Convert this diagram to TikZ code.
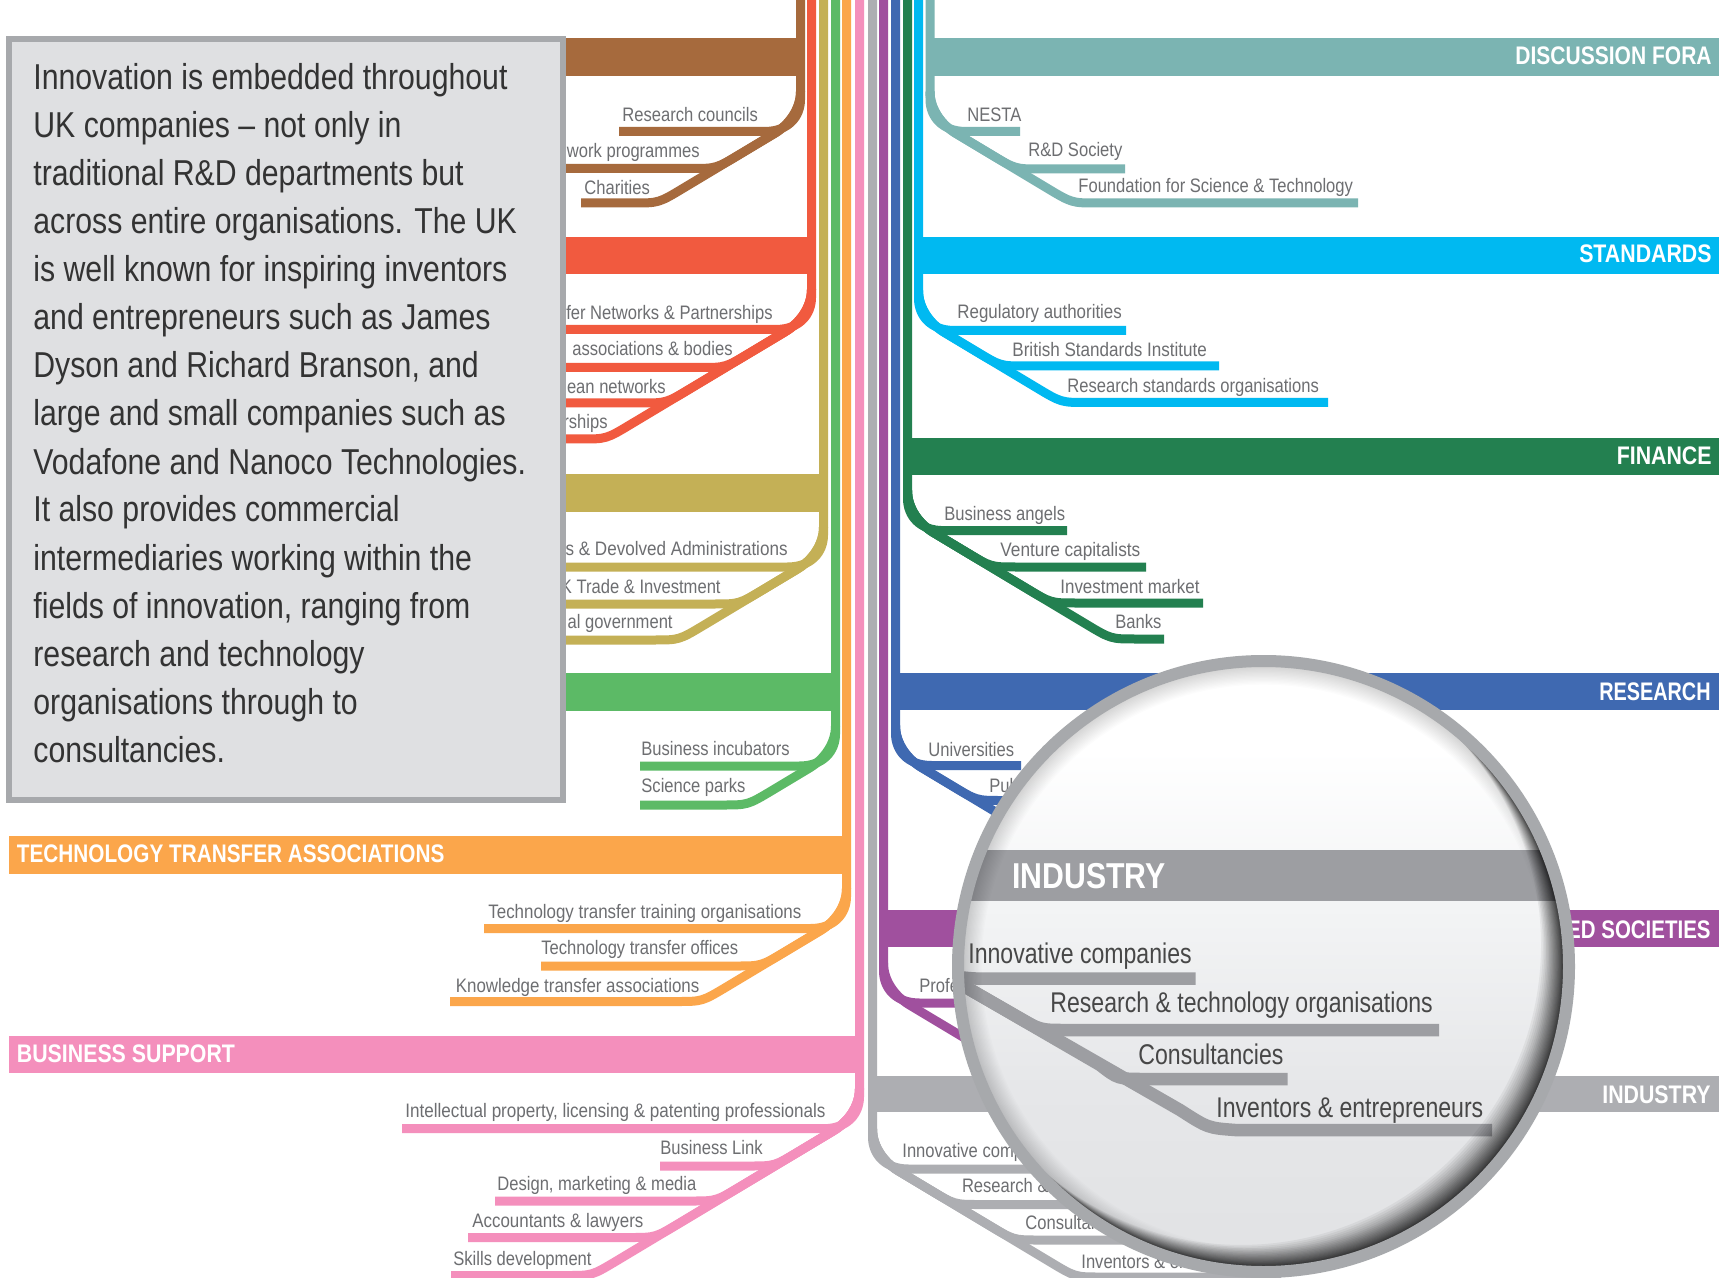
\documentclass[tikz,border=0pt]{standalone}
\usepackage{fontspec}
\setmainfont{Liberation Sans}
\newfontfamily\cnd[FakeStretch=0.85]{Liberation Sans}
\newfontfamily\cndp[FakeStretch=0.84]{Liberation Sans}
\newfontfamily\cndl[FakeStretch=0.81]{Liberation Sans}
\newfontfamily\cndb[FakeStretch=0.84]{Liberation Sans}
\definecolor{cbrown}{HTML}{A66A3D}
\definecolor{cred}{HTML}{F15A3F}
\definecolor{colive}{HTML}{C4B056}
\definecolor{cgreen}{HTML}{5CBA66}
\definecolor{corange}{HTML}{FBA64B}
\definecolor{cpink}{HTML}{F48FBC}
\definecolor{cgrey}{HTML}{ADAEB2}
\definecolor{cpurple}{HTML}{A0509E}
\definecolor{cblue}{HTML}{3F69B1}
\definecolor{cdkgreen}{HTML}{238050}
\definecolor{ccyan}{HTML}{00B9F1}
\definecolor{cteal}{HTML}{7BB4B2}
\definecolor{ctext}{HTML}{6D6E71}
\definecolor{clens}{HTML}{9D9EA2}
\definecolor{cring}{HTML}{A7A9AC}
\definecolor{cpanel}{HTML}{DFE0E2}
\definecolor{lensg}{HTML}{E1E2E4}
\definecolor{lensm}{HTML}{E6E7E9}
\definecolor{lensl}{HTML}{F3F4F5}
\pgfdeclareverticalshading{lensv}{100bp}{color(0bp)=(lensg); color(25bp)=(lensg); color(40bp)=(lensm); color(55bp)=(lensl); color(68bp)=(white); color(100bp)=(white)}
\tikzset{
  stem/.style={line width=4.5pt},
  lbl/.style={inner sep=0pt,text=ctext,font=\cnd\fontsize{9.75}{10}\selectfont},
  barlbl/.style={inner sep=0pt,text=white,font=\cndb\bfseries\fontsize{12.7}{13}\selectfont},
  paneltxt/.style={inner sep=0pt,anchor=base west,text=black!80,font=\cndp\fontsize{18}{18}\selectfont},
  lenslbl/.style={inner sep=0pt,anchor=base west,text=black!72,font=\cndl\fontsize{14.25}{15}\selectfont},
  lensline/.style={line width=6.25pt,clens},
  wide/.style={xscale=#1,transform shape},
}
% colour, x0, direction, first y, first end, list of y/end
\newcommand\subtree[6]{%
  \draw[stem,#1] (#2,0) -- (#2,#4-32) .. controls (#2,#4-15) and ({#2+#3*12},#4) .. ({#2+#3*36},#4) -- (#5,#4);
  \foreach \yy/\xe in {#6} {
    \pgfmathsetmacro\xm{#2+#3*(16+(\yy-#4+4)/0.6)}
    \draw[stem,#1] (#2,#4-40) .. controls (#2,#4-22) and ({#2+#3*12},#4-6.4) .. ({#2+#3*26},#4+2) -- ({\xm-#3*25},\yy-15) .. controls (\xm,\yy) .. ({\xm+#3*25},\yy) -- (\xe,\yy);
  }
}
\newcommand\labW[5][wide=1]{\node[lbl,anchor=base west,#1] (#2) at (#3,#4) {#5};}
\newcommand\labE[5][wide=1]{\node[lbl,anchor=base east,#1] (#2) at (#3,#4) {#5};}
\begin{document}
\begin{tikzpicture}[x=0.5pt,y=-0.5pt]
\useasboundingbox (0,0) rectangle (1719,1278);
\fill[white] (0,0) rectangle (1719,1278);

% trees
\subtree{cbrown}{800.5}{-1}{131.5}{619}{168.5/400,203/581}
\subtree{cred}{811.5}{-1}{329.5}{400}{367.5/400,403/400,439/400}
\subtree{colive}{823.5}{-1}{567}{400}{604/400,640/400}
\subtree{cgreen}{835.5}{-1}{766}{640}{805/640}
\subtree{corange}{846.5}{-1}{928.5}{484}{966/541,1001.5/450}
\subtree{cpink}{859.5}{-1}{1128.7}{402}{1166/660,1201/495,1237.5/468,1275.5/451}
\subtree{cgrey}{872.5}{1}{1169}{1069}{1204.5/1246,1240/1130,1277/1281}
\subtree{cpurple}{883.5}{1}{1003}{1100}{1047/1200}
\subtree{cblue}{895.5}{1}{765.5}{1021}{800.5/1200,840/1200}
\subtree{cdkgreen}{907.5}{1}{530.6}{1067}{567/1146,603/1203,639/1164}
\subtree{ccyan}{918.5}{1}{330.5}{1126}{366/1219,402.5/1328}
\subtree{cteal}{930}{1}{131.5}{1020}{169/1125,203/1358}

% bars
\fill[cbrown] (9,38) rectangle (805,76);
\fill[cred] (9,237) rectangle (816,274);
\fill[colive] (9,474) rectangle (828,512);
\fill[cgreen] (9,673) rectangle (840,711);
\fill[corange] (9,836) rectangle (851,874);
\fill[cpink] (9,1036) rectangle (864,1073);
\fill[cgrey] (868,1075.5) rectangle (1719,1112);
\fill[cpurple] (879,910) rectangle (1719,947);
\fill[cblue] (891,672.5) rectangle (1719,710);
\fill[cdkgreen] (903,438) rectangle (1719,475);
\fill[ccyan] (914,237) rectangle (1719,274);
\fill[cteal] (926,38) rectangle (1719,76);

% bar labels
\node[barlbl,anchor=base west,wide=0.973] (bTTA) at (16.5,862) {TECHNOLOGY TRANSFER ASSOCIATIONS};
\node[barlbl,anchor=base west] (bBS) at (16.5,1062) {BUSINESS SUPPORT};
\node[barlbl,anchor=base east,wide=0.985] (bDF) at (1712,65) {DISCUSSION FORA};
\node[barlbl,anchor=base east] (bST) at (1712,263) {STANDARDS};
\node[barlbl,anchor=base east] (bFI) at (1712,465) {FINANCE};
\node[barlbl,anchor=base east,wide=0.93] (bRE) at (1711,700) {RESEARCH};
\node[barlbl,anchor=base east,wide=0.96] (bLS) at (1711,938) {ED SOCIETIES};
\node[barlbl,anchor=base east] (bIN) at (1711,1103) {INDUSTRY};

% labels, left side
\labW{a1}{622}{122}{Research councils}
\labE{a2}{700}{158}{work programmes}
\labW{a3}{584}{195}{Charities}
\labE{r1}{773}{319.5}{fer Networks \& Partnerships}
\labE{r2}{733}{356}{associations \& bodies}
\labE{r3}{666}{394}{ean networks}
\labE{r4}{608}{429}{rships}
\labE[wide=1.03]{o1}{788}{555}{s \& Devolved Administrations}
\labE{o2}{721}{593}{K Trade \& Investment}
\labE{o3}{673}{628}{al government}
\labW{g1}{641}{755}{Business incubators}
\labW{g2}{641}{792}{Science parks}
\labW[wide=1.02]{t1}{488}{918}{Technology transfer training organisations}
\labW{t2}{541}{954}{Technology transfer offices}
\labW[wide=1.02]{t3}{455.5}{992.7}{Knowledge transfer associations}
\labW[wide=1.03]{p1}{405}{1117}{Intellectual property, licensing \& patenting professionals}
\labW{p2}{660}{1154}{Business Link}
\labW{p3}{497}{1190.7}{Design, marketing \& media}
\labW[wide=1.02]{p4}{472}{1227}{Accountants \& lawyers}
\labW{p5}{453}{1265}{Skills development}

% labels, right side
\labW{d1}{967}{122}{NESTA}
\labW{d2}{1028}{157}{R\&D Society}
\labW{d3}{1078}{193}{Foundation for Science \& Technology}
\labW[wide=1.02]{s1}{957}{318.5}{Regulatory authorities}
\labW[wide=1.03]{s2}{1012}{357}{British Standards Institute}
\labW{s3}{1067}{393}{Research standards organisations}
\labW{f1}{944}{520}{Business angels}
\labW[wide=1.04]{f2}{1000}{556}{Venture capitalists}
\labW[wide=1.02]{f3}{1060}{593}{Investment market}
\labW{f4}{1115}{628}{Banks}
\labW{b1}{928}{756}{Universities}
\labW{b2}{989}{792.6}{Public}
\labW{l1}{919}{992.5}{Professional}
\labW{i1}{902}{1157.7}{Innovative comp}
\labW{i2}{961.6}{1192}{Research \&}
\labW{i3}{1025}{1229.5}{Consultancies}
\labW{i4}{1081}{1268}{Inventors \& en}

% panel
\draw[cring,fill=cpanel,line width=3pt] (9,39) rectangle (563,800);
\node[paneltxt] (q1) at (33,90) {Innovation is embedded throughout};
\node[paneltxt] (q2) at (33,138) {UK companies – not only in};
\node[paneltxt] (q3) at (33,186) {traditional R\&D departments but};
\node[paneltxt] (q4) at (33,234) {across entire organisations. The UK};
\node[paneltxt] (q5) at (33,282) {is well known for inspiring inventors};
\node[paneltxt] (q6) at (33,330) {and entrepreneurs such as James};
\node[paneltxt] (q7) at (33,378) {Dyson and Richard Branson, and};
\node[paneltxt] (q8) at (33,426) {large and small companies such as};
\node[paneltxt] (q9) at (33,474) {Vodafone and Nanoco Technologies.};
\node[paneltxt] (q10) at (33,522) {It also provides commercial};
\node[paneltxt] (q11) at (33,570) {intermediaries working within the};
\node[paneltxt] (q12) at (33,618) {fields of innovation, ranging from};
\node[paneltxt] (q13) at (33,666) {research and technology};
\node[paneltxt] (q14) at (33,714) {organisations through to};
\node[paneltxt] (q15) at (33,762) {consultancies.};

% lens
\begin{scope}
  \clip (1263.5,966.5) circle (300);
  \shade[shading=lensv] (1263.5,966.5) circle (300);
  \fill[clens] (900,850) rectangle (1600,900.5);
  \draw[lensline] (930,972) .. controls (950,975) and (960,978.7) .. (985,978.7) -- (1195.5,978.7);
  \draw[lensline] (950,978) -- (1015,1015.5) .. controls (1040,1030) .. (1065,1030) -- (1439,1030);
  \draw[lensline] (950,978) -- (1100,1065) .. controls (1118,1079) .. (1145,1079) -- (1287.5,1079);
  \draw[lensline] (950,978) -- (1180,1110) .. controls (1208,1128) .. (1235,1130) -- (1492,1130);
  \foreach \i in {1,...,14} {
    \fill[black,opacity=0.012,even odd rule] (900,600) rectangle (1620,1330) (1263.5,966.5) circle ({300-\i*1.3});
  }
  \foreach \i in {1,...,25} {
    \fill[black,opacity=0.05,even odd rule] (900,600) rectangle (1620,1330)
      ({1263.5-0.72*0.05*\i*\i},{966.5-0.69*0.05*\i*\i}) circle (300);
  }
\end{scope}
\draw[cring,line width=6pt] (1263.5,966.5) circle (305.5);
\node[inner sep=0pt,anchor=base west,text=white,font=\cndb\bfseries\fontsize{18}{18}\selectfont] (lI) at (1012,888) {INDUSTRY};
\node[lenslbl] (l1t) at (968,963.5) {Innovative companies};
\node[lenslbl] (l2t) at (1050,1012) {Research \& technology organisations};
\node[lenslbl] (l3t) at (1138,1064.5) {Consultancies};
\node[lenslbl] (l4t) at (1216,1117) {Inventors \& entrepreneurs};
\end{tikzpicture}
\end{document}
